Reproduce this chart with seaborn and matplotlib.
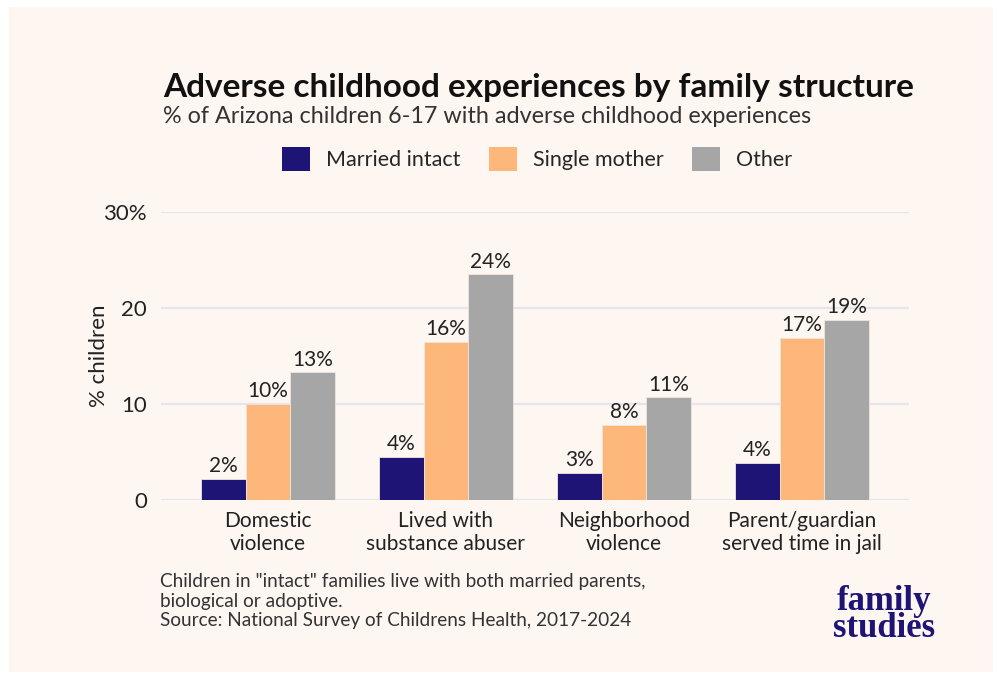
import matplotlib
matplotlib.use("Agg")
import matplotlib.pyplot as plt
import matplotlib.patches as mpatches
import pandas as pd
import seaborn as sns

# data
categories = ["Domestic\nviolence", "Lived with\nsubstance abuser",
              "Neighborhood\nviolence", "Parent/guardian\nserved time in jail"]
groups = ["Married intact", "Single mother", "Other"]
married_intact = [2.2, 4.5, 2.8, 3.9]
single_mother = [10.0, 16.5, 7.8, 16.9]
other = [13.3, 23.5, 10.7, 18.75]
y_ticks = [0, 10, 20, 30]
y_tick_labels = ["0", "10", "20", "30%"]

colors = ["#1E1476", "#FDB77A", "#A6A6A6"]
bg = "#FDF6F1"

df = pd.DataFrame({
    "category": categories * 3,
    "group": [groups[0]] * 4 + [groups[1]] * 4 + [groups[2]] * 4,
    "value": married_intact + single_mother + other,
})

sns.set_style("white")
plt.rcParams["font.family"] = ["Lato", "DejaVu Sans"]

fig = plt.figure(figsize=(10.02, 6.79), dpi=100)
fig.patch.set_facecolor("white")
fig.add_artist(mpatches.Rectangle((9 / 1002, 7 / 679), 984 / 1002, 665 / 679,
                                  transform=fig.transFigure, facecolor=bg,
                                  edgecolor="none", zorder=-10))

ax = fig.add_axes([0.1607, 0.2636, 0.907 - 0.1607, 0.6878 - 0.2636])
ax.set_facecolor(bg)

sns.barplot(data=df, x="category", y="value", hue="group", order=categories,
            hue_order=groups, palette=colors, saturation=1, width=0.75, gap=0,
            edgecolor="#EDE6E0", linewidth=0.6, ax=ax, legend=False, zorder=3)

for cont in ax.containers:
    ax.bar_label(cont, labels=[f"{v:.0f}%" for v in cont.datavalues],
                 padding=2, fontsize=15, color="#222222")

ax.set_xlim(-0.6, 3.6)
ax.set_ylim(0, 30)
ax.set_yticks(y_ticks)
ax.set_yticklabels(y_tick_labels, fontsize=16, color="#222222")
ax.tick_params(axis="x", labelsize=15, colors="#222222", length=0, pad=8)
ax.tick_params(axis="y", length=0, pad=10)
ax.grid(axis="y", color="#E6E4EC", linewidth=1.6, zorder=0)
ax.set_axisbelow(True)
for s in ax.spines.values():
    s.set_visible(False)
ax.set_xlabel("")
ax.set_ylabel("% children", fontsize=16, color="#222222", labelpad=-4)

fig.text(163 / 1002, 1 - 97 / 679, "Adverse childhood experiences by family structure",
         fontsize=24, fontweight="bold", color="#111111", va="baseline")
fig.text(163 / 1002, 1 - 123 / 679,
         "% of Arizona children 6-17 with adverse childhood experiences",
         fontsize=16.8, color="#333333", va="baseline")

handles = [mpatches.Patch(facecolor=c, edgecolor="none", label=g)
           for c, g in zip(colors, groups)]
fig.legend(handles=handles, loc="center", bbox_to_anchor=(537 / 1002, 1 - 159 / 679),
           ncol=3, frameon=False, fontsize=15.5, handlelength=1.3, handleheight=1.3,
           columnspacing=1.3, handletextpad=0.75)

fig.text(160 / 1002, 1 - 601 / 679,
         "Children in \"intact\" families live with both married parents,\n"
         "biological or adoptive.\n"
         "Source: National Survey of Childrens Health, 2017-2024",
         fontsize=13.7, color="#333333", va="center", linespacing=1.2)

fig.text(884 / 1002, 1 - 615 / 679, "family\nstudies", family="Liberation Serif",
         fontweight="bold", fontsize=25, color="#1E1476", ha="center", va="center",
         linespacing=0.78)

fig.savefig("out.png", dpi=100, facecolor=fig.get_facecolor())
